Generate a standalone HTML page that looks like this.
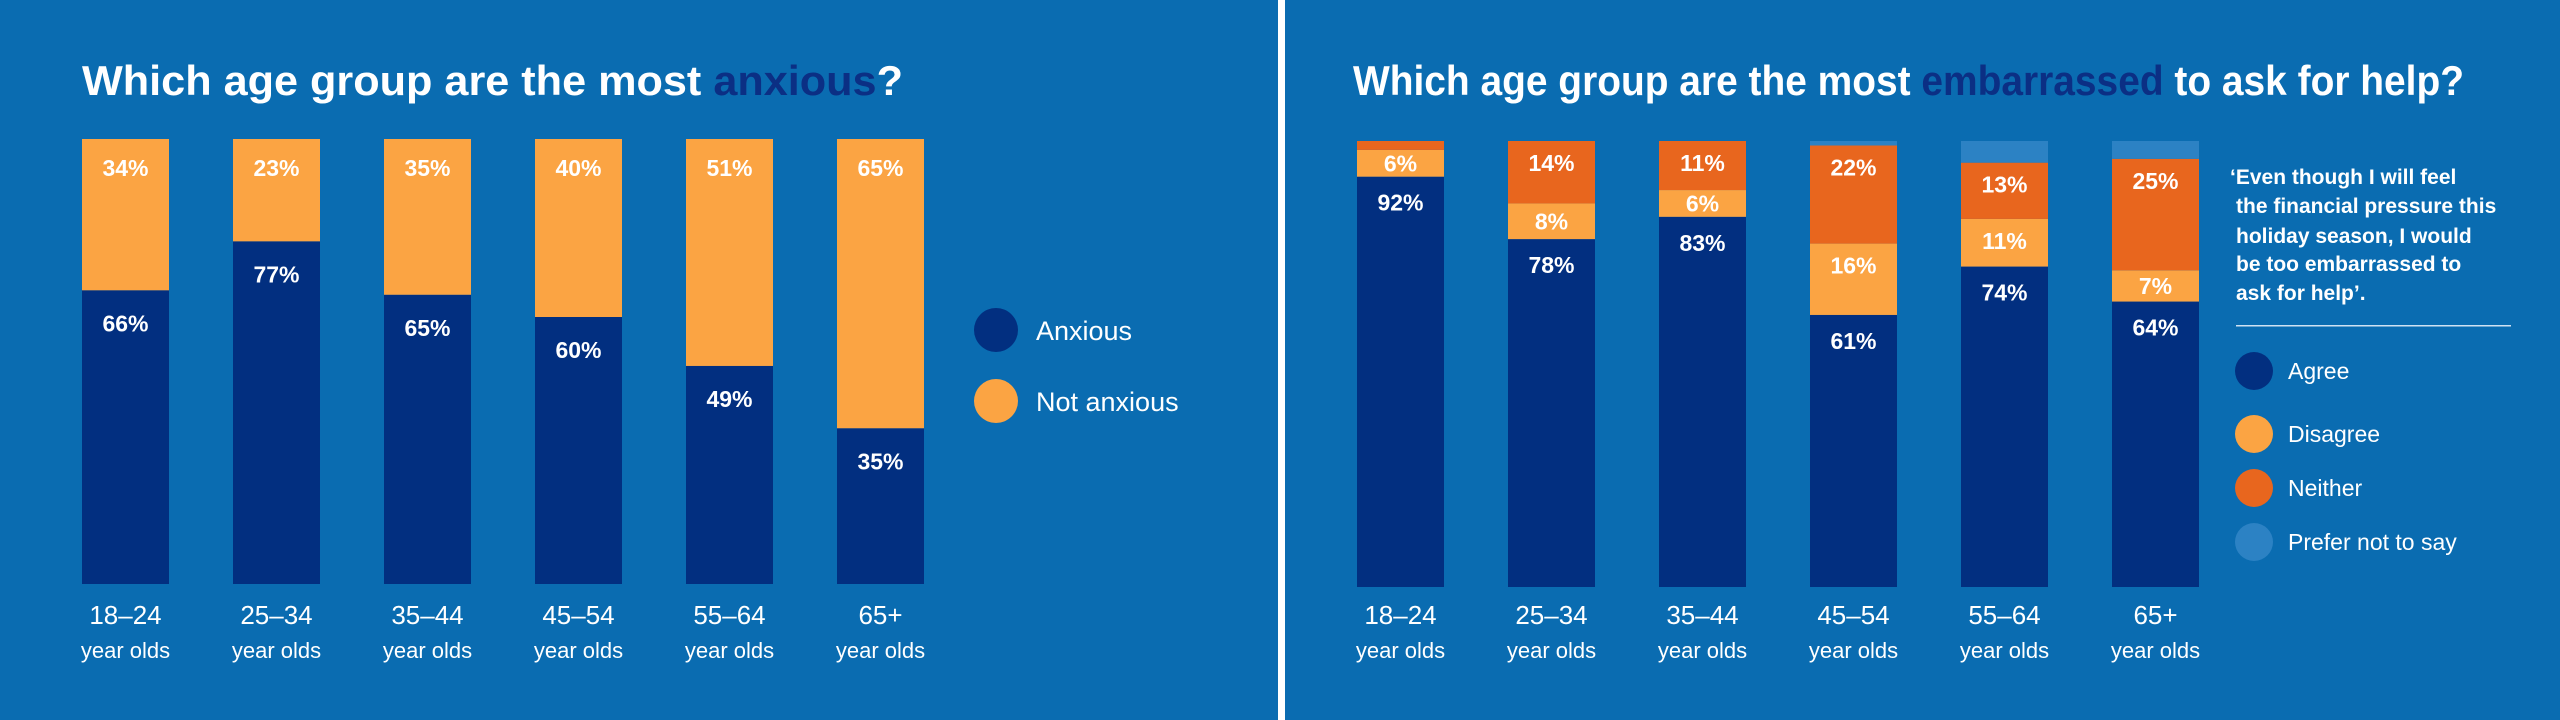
<!DOCTYPE html>
<html><head><meta charset="utf-8"><style>
html,body{margin:0;padding:0;background:#0a6cb1;}
svg{display:block;font-family:"Liberation Sans",sans-serif;}
</style></head><body>
<svg id="c" width="2560" height="720" viewBox="0 0 2560 720" xmlns="http://www.w3.org/2000/svg">
<rect x="0" y="0" width="2560" height="720" fill="#0a6cb1"/>
<rect x="1278" y="0" width="7" height="720" fill="#ffffff"/>
<text x="82" y="95" font-size="42" font-weight="bold" fill="#fff" textLength="821" lengthAdjust="spacingAndGlyphs">Which age group are the most <tspan fill="#0b2f84">anxious</tspan>?</text>
<text x="1353" y="95" font-size="42" font-weight="bold" fill="#fff" textLength="1111" lengthAdjust="spacingAndGlyphs">Which age group are the most <tspan fill="#0b2f84">embarrassed</tspan> to ask for help?</text>
<g id="left"></g>
<g id="right"></g>
<g>
<circle cx="996" cy="330" r="22" fill="#022f80"/>
<text x="1036" y="340" font-size="27" fill="#fff">Anxious</text>
<circle cx="996" cy="401" r="22" fill="#fba443"/>
<text x="1036" y="411" font-size="27" fill="#fff">Not anxious</text>
</g>
<g font-size="21" font-weight="bold" fill="#fff">
<text x="2230" y="184">‘Even though I will feel</text>
<text x="2236" y="213">the financial pressure this</text>
<text x="2236" y="243">holiday season, I would</text>
<text x="2236" y="271">be too embarrassed to</text>
<text x="2236" y="300">ask for help’.</text>
</g>
<rect x="2236" y="325" width="275" height="1.5" fill="#cfe2f3"/>
<g font-size="23" fill="#fff">
<circle cx="2254" cy="371" r="19" fill="#022f80"/>
<text x="2288" y="379">Agree</text>
<circle cx="2254" cy="434" r="19" fill="#fba443"/>
<text x="2288" y="442">Disagree</text>
<circle cx="2254" cy="488" r="19" fill="#e8661e"/>
<text x="2288" y="496">Neither</text>
<circle cx="2254" cy="542" r="19" fill="#2c82c4"/>
<text x="2288" y="550">Prefer not to say</text>
</g>
</svg>
<script>
const categories = ["18–24", "25–34", "35–44", "45–54", "55–64", "65+"];
const anxious = [66, 77, 65, 60, 49, 35];
const notAnxious = [34, 23, 35, 40, 51, 65];
const agree = [92, 78, 83, 61, 74, 64];
const disagree = [6, 8, 6, 16, 11, 7];
const neither = [2, 14, 11, 22, 13, 25];
const preferNot = [0, 0, 0, 1, 5, 4];

const NS = "http://www.w3.org/2000/svg";
function mk(tag, attrs, parent) {
  const el = document.createElementNS(NS, tag);
  for (const k in attrs) el.setAttribute(k, attrs[k]);
  parent.appendChild(el);
  return el;
}
const BW = 87, STEP = 151;
function xL(i) { return 82 + i * STEP; }
function xR(i) { return 1357 + i * STEP; }
const L_TOP = 139, L_BOT = 584, R_TOP = 141, R_BOT = 587;
function yScale(top, bot, v, total) { return (bot - top) * v / total; }

function catLabels(g, xf, slug) {
  categories.forEach((c, i) => {
    const t = mk("text", {x: xf(i) + BW / 2, y: 624, "font-size": 26, fill: "#fff", "text-anchor": "middle"}, g);
    t.textContent = c;
    
    
    const t2 = mk("text", {x: xf(i) + BW / 2, y: 658, "font-size": 22, fill: "#fff", "text-anchor": "middle"}, g);
    t2.textContent = "year olds";
    
    
  });
}
function valLabel(g, x, y, v, name) {
  const t = mk("text", {x: x, y: y + 8, "font-size": 23, "font-weight": "bold", fill: "#fff", "text-anchor": "middle"}, g);
  t.textContent = v + "%";
  
  
}

// Left chart
const gl = document.getElementById("left");
categories.forEach((c, i) => {
  const total = anxious[i] + notAnxious[i];
  const ha = yScale(L_TOP, L_BOT, anxious[i], total);
  const hn = yScale(L_TOP, L_BOT, notAnxious[i], total);
  const yA = L_BOT - ha, yN = yA - hn;
  const r1 = mk("rect", {x: xL(i), y: yA, width: BW, height: ha, fill: "#022f80"}, gl);
  
  
  const r2 = mk("rect", {x: xL(i), y: yN, width: BW, height: hn, fill: "#fba443"}, gl);
  
  
  valLabel(gl, xL(i) + BW / 2, yN + 29, notAnxious[i], 'value-not-anxious');
  valLabel(gl, xL(i) + BW / 2, yA + 33, anxious[i], 'value-anxious');
});
catLabels(gl, xL, 'anxious');

// Right chart
const gr = document.getElementById("right");
categories.forEach((c, i) => {
  const total = agree[i] + disagree[i] + neither[i] + preferNot[i];
  const segs = [
    [agree[i], "#022f80", "agree"],
    [disagree[i], "#fba443", "disagree"],
    [neither[i], "#e8661e", "neither"],
    [preferNot[i], "#2c82c4", "prefer-not"]
  ];
  let y = R_BOT;
  segs.forEach(([v, col, nm]) => {
    const h = yScale(R_TOP, R_BOT, v, total);
    y -= h;
    if (h <= 0) return;
    const r = mk("rect", {x: xR(i), y: y, width: BW, height: h, fill: col}, gr);
    
    
    if (nm === "prefer-not" || v < 4) return;
    const ly = nm === "agree" ? y + 26 : y + Math.min(h / 2, 22);
    valLabel(gr, xR(i) + BW / 2, ly, v, 'value-' + nm);
  });
});
catLabels(gr, xR, 'embarrassed');
</script>
</body></html>
